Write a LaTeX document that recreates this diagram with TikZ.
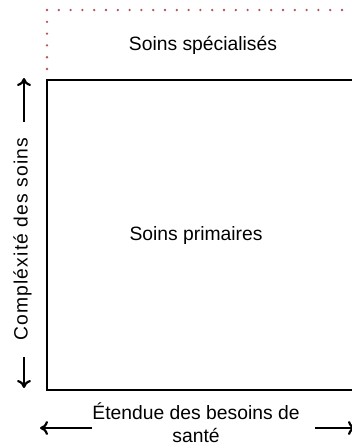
\documentclass[tikz,border=0pt]{standalone}
\usepackage{fontspec}
\setmainfont{Liberation Sans}
\usetikzlibrary{arrows.meta}

\definecolor{dotred}{RGB}{178,84,84}

\tikzset{
  frame/.style={line width=2pt},
  speclevel/.style={dotred, line width=2.6pt, line cap=round, dash pattern=on 0pt off 11.8pt},
  lbl/.style={font=\fontsize{19.3}{23}\selectfont, inner sep=0pt},
  axisarrow/.style={line width=2.2pt, -{To[length=8pt,width=14pt,line width=2.2pt]}}
}

\begin{document}
\begin{tikzpicture}[x=1pt,y=-1pt]

     \useasboundingbox (0,0) rectangle (352,448);
     \clip (0,0) rectangle (352,448);

     % corners
     \coordinate (specbl) at (47,69);
     \coordinate (spectl) at (47,10);
     \coordinate (spectr) at (360,10);
     \coordinate (primtl) at (47,80);
     \coordinate (primtr) at (360,80);
     \coordinate (primbl) at (47,390);
     \coordinate (primbr) at (360,390);

     % levels
     \draw[speclevel] (specbl) -- (spectl) -- (spectr);
     \draw[frame] (primtr) -- (primtl) -- (primbl) -- (primbr);

     % texts
     \node[lbl] (spec) at (203,45) {Soins spécialisés};
     \node[lbl] (prim) at (196,236) {Soins primaires};
     \node[lbl, rotate=90, font=\fontsize{19.3}{23}\selectfont\addfontfeature{LetterSpace=6}] (complex) at (22.5,239) {Compléxité des soins};
     \node[lbl, align=center] (extent) at (196,423) {Étendue des besoins de\\santé};

     % arrow ends
     \coordinate (uptail) at (24,122);
     \coordinate (uptip) at (24,78);
     \coordinate (downtail) at (24,357);
     \coordinate (downtip) at (24,388);
     \coordinate (lefttail) at (92,428);
     \coordinate (lefttip) at (40,428);
     \coordinate (righttail) at (315,428);
     \coordinate (righttip) at (356,428);

     % arrows
     \draw[axisarrow] (uptail) -- (uptip);
     \draw[axisarrow] (downtail) -- (downtip);
     \draw[axisarrow] (lefttail) -- (lefttip);
     \draw[axisarrow] (righttail) -- (righttip);

\end{tikzpicture}
\end{document}
